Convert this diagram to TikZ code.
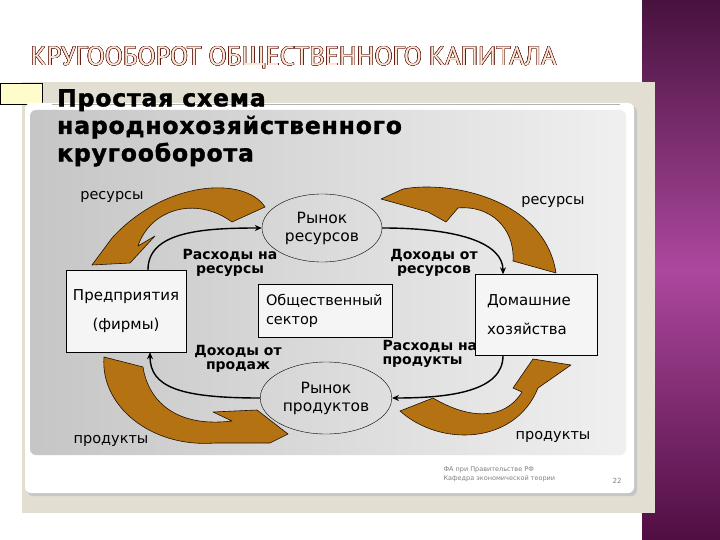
\documentclass[tikz,border=0pt]{standalone}
\usepackage{fontspec}
\setmainfont{DejaVu Sans}
\newfontfamily\titlefont{PT Sans}
\newfontfamily\headfont{DejaVu Sans}[LetterSpace=3.5, FakeBold=1.6]
\usepackage{contour}
\contourlength{0.45pt}
\usetikzlibrary{shapes.geometric,arrows.meta}
\definecolor{arrowbrown}{RGB}{181,114,18}
\definecolor{panelbeige}{RGB}{226,222,210}
\definecolor{titleline}{RGB}{95,25,20}
\definecolor{titlefill}{RGB}{252,230,212}
\definecolor{purpletop}{RGB}{72,18,62}
\definecolor{purplemid}{RGB}{172,72,158}
\definecolor{purplebot}{RGB}{80,14,66}
\tikzset{
  market/.style={ellipse, draw, thin, align=center, font=\fontsize{15.5}{18}\selectfont},
  sector/.style={rectangle, draw, thin, fill=white!92!gray},
  flow/.style={align=center, font=\bfseries\fontsize{14}{14}\selectfont},
  goods/.style={font=\fontsize{14.5}{16}\selectfont},
  money/.style={line width=1.4pt, -{Stealth[length=7pt,width=6pt]}},
  bigarrow/.style={fill=arrowbrown, draw=black!85!arrowbrown, line width=0.6pt, line join=round}
}
\begin{document}
\begin{tikzpicture}[x=1pt,y=-1pt]
  \useasboundingbox (0,0) rectangle (720,540);
  \fill[white] (0,0) rectangle (720,540);
  % right band
  \shade[top color=purpletop, bottom color=purplemid] (642,0) rectangle (720,270);
  \shade[top color=purplemid, bottom color=purplebot] (642,270) rectangle (720,540);
  \fill[panelbeige] (22,82) rectangle (655,513);
  \draw[fill=yellow!20] (0,83) rectangle (42,104);
  % frame with picture
  \fill[gray!45, rounded corners=6] (27,106) rectangle (637,496);
  \fill[white, rounded corners=6] (25,103) rectangle (634,493);
  \shade[left color=gray!45, right color=gray!12, rounded corners=6] (30,110) rectangle (626,455);
  \draw[gray!60] (52,104) -- (620,104);

  \node[font=\titlefont\fontsize{26.5}{30}\selectfont, text=titlefill, anchor=west] (title) at (27,58)
    {\contour{titleline}{КРУГООБОРОТ ОБЩЕСТВЕННОГО КАПИТАЛА}};
  \node[font=\headfont\bfseries\fontsize{23.5}{27.5}\selectfont, align=left, anchor=north west, inner sep=0] (head) at (57,89)
    {Простая схема\\народнохозяйственного\\кругооборота};

  \node[market, minimum width=120, minimum height=68] (resmkt) at (322,228) {Рынок\\ресурсов};
  \node[market, minimum width=124, minimum height=72] (prodmkt) at (326,398) {Рынок\\продуктов};
  \node[sector, minimum width=120, minimum height=82, align=center, font=\fontsize{15}{17}\selectfont] (firms) at (126,311)
    {Предприятия\\[12pt](фирмы)};
  \node[sector, minimum width=134, minimum height=53, text width=118, align=left, font=\fontsize{14.5}{19}\selectfont] (pubsec) at (325,311)
    {Общественный\\сектор};
  \node[sector, minimum width=122, minimum height=81, text width=98, align=left, font=\fontsize{15}{17}\selectfont] (hh) at (536,315)
    {Домашние\\[12pt]хозяйства};

  % big brown arrows
  \draw[bigarrow] (265,207) .. controls (245,176) and (165,180) .. (112,238) -- (92,265) -- (130,263)
    -- (155,236) -- (138,246) .. controls (150,210) and (195,195) .. (232,222) -- cycle;
  \draw[bigarrow] (381,199) -- (403,189) .. controls (452,180) and (545,200) .. (556,273) -- (513,261)
    .. controls (515,228) and (490,205) .. (458,208) -- (446,222) -- (428,212) -- cycle;
  \draw[bigarrow] (104,357) .. controls (100,405) and (150,448) .. (215,443) -- (270,443) -- (288,434)
    -- (257,410) -- (213,412) -- (232,421) .. controls (175,428) and (148,400) .. (143,367) -- cycle;
  \draw[bigarrow] (400,411) .. controls (440,447) and (515,445) .. (538,388) -- (571,365) -- (533,359)
    -- (513,388) -- (522,392) .. controls (505,420) and (470,420) .. (433,398) -- cycle;

  \node[goods] (lres1) at (112,197) {ресурсы};
  \node[goods] (lres2) at (553,202) {ресурсы};
  \node[goods] (lprod1) at (111,441) {продукты};
  \node[goods] (lprod2) at (553,437) {продукты};

  \node[flow] (lexpres) at (230,263) {Расходы на\\ресурсы};
  \node[flow] (lincres) at (434,263) {Доходы от\\ресурсов};
  \node[flow] (lincsal) at (238,359) {Доходы от\\продаж};
  \node[flow, align=left, anchor=west] (lexpprod) at (379,354) {Расходы на\\продукты};

  % money flows
  \draw[money] ([xshift=22]firms.north) .. controls +(0,-38) and +(-60,0) .. (resmkt.west);
  \draw[money] (resmkt.east) .. controls +(80,0) and +(0,-30) .. ([xshift=-33]hh.north);
  \draw[money] ([xshift=-33]hh.south) .. controls +(0,35) and +(60,0) .. (prodmkt.east);
  \draw[money] (prodmkt.west) .. controls +(-80,0) and +(0,35) .. ([xshift=24]firms.south);

  \node[text=gray, font=\fontsize{6.5}{9}\selectfont, align=left, anchor=west] (foot) at (440,474)
    {ФА при Правительстве РФ\\Кафедра экономической теории};
  \node[text=gray, font=\fontsize{7}{9}\selectfont] (pagenum) at (617,481) {22};
\end{tikzpicture}
\end{document}
